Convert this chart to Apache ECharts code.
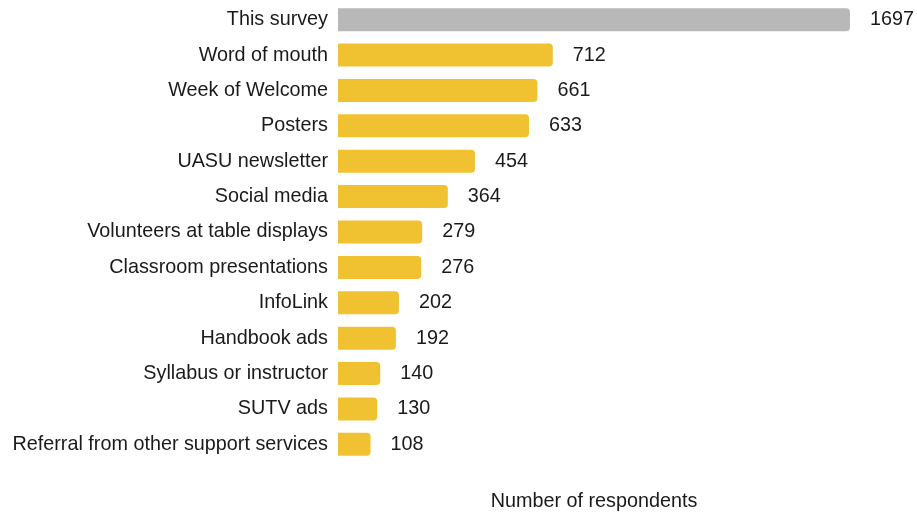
<!DOCTYPE html>
<html><head><meta charset="utf-8">
<script src="https://cdn.jsdelivr.net/npm/echarts@6/dist/echarts.min.js"></script>
<style>html,body{margin:0;padding:0;background:#fff}#c{width:917px;height:514px}</style>
</head><body><div id="c"></div>
<script>
const categories = ["This survey","Word of mouth","Week of Welcome","Posters","UASU newsletter","Social media","Volunteers at table displays","Classroom presentations","InfoLink","Handbook ads","Syllabus or instructor","SUTV ads","Referral from other support services"];
const values = [1697,712,661,633,454,364,279,276,202,192,140,130,108];
const axisTitle = "Number of respondents";

const F = 'Liberation Sans';
const FS = 19.8;
const chart = echarts.init(document.getElementById('c'));
chart.setOption({
  animation:false,
  grid:{left:338,right:67,top:2,bottom:52,containLabel:false,outerBoundsMode:'none'},
  xAxis:{type:'value',min:0,max:1697,show:true,
    axisLine:{show:false},axisTick:{show:false},axisLabel:{show:false},splitLine:{show:false},
    name:axisTitle,nameLocation:'middle',nameGap:30,
    nameTextStyle:{fontFamily:F,fontSize:FS,color:'#1a1a1a'}},
  yAxis:{type:'category',data:categories,inverse:true,
    axisLine:{show:false},axisTick:{show:false},
    axisLabel:{margin:10,fontFamily:F,fontSize:FS,color:'#1a1a1a'}},
  series:[{type:'bar',barWidth:23,
    data:values.map((v,i)=>({value:v,itemStyle:{color:i===0?'#b8b8b8':'#f0c232'}})),
    itemStyle:{borderRadius:[0,4,4,0]},
    label:{show:true,position:'right',distance:20,fontFamily:F,fontSize:FS,color:'#1a1a1a'}
  }]
});
</script></body></html>
